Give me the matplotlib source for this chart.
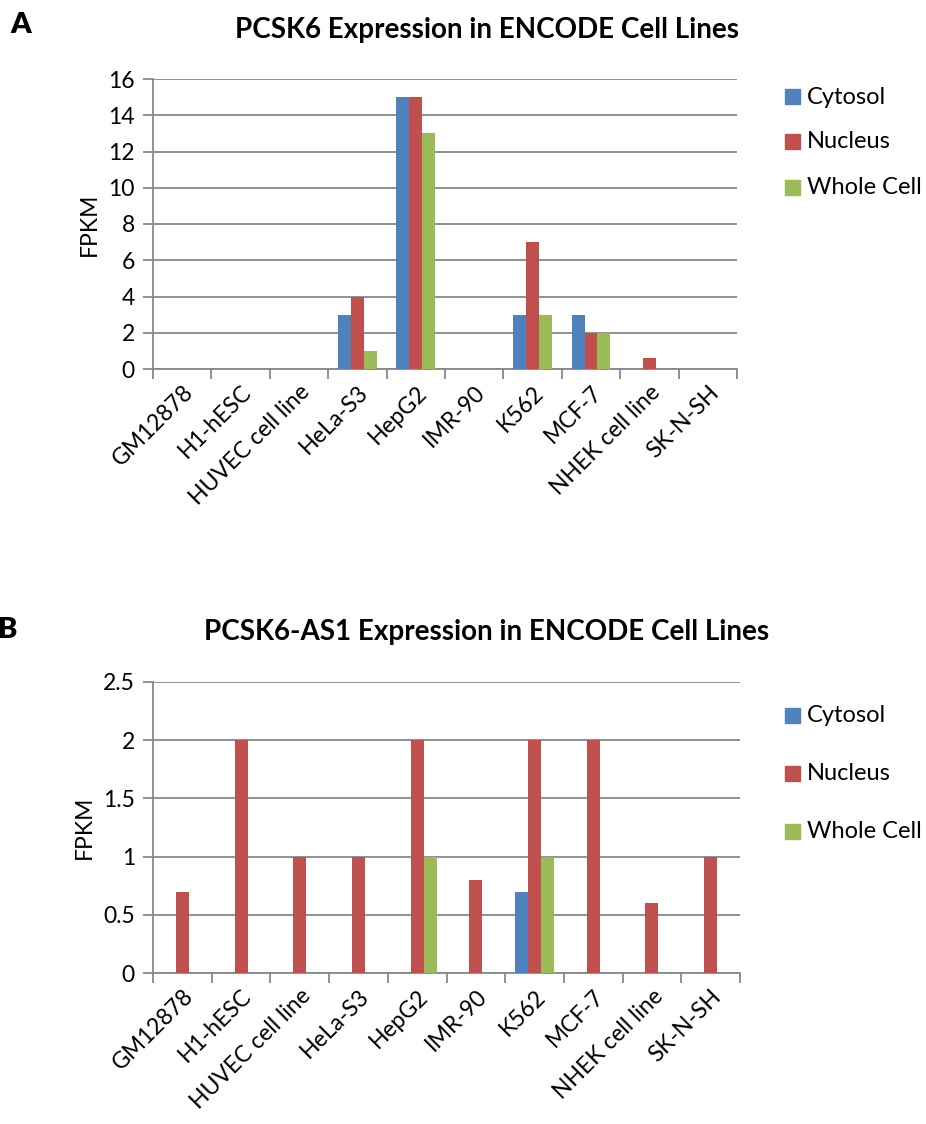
import matplotlib
matplotlib.use("Agg")
import matplotlib.pyplot as plt
import numpy as np
from matplotlib.patches import Rectangle

cells = ["GM12878", "H1-hESC", "HUVEC cell line", "HeLa-S3", "HepG2", "IMR-90",
         "K562", "MCF-7", "NHEK cell line", "SK-N-SH"]
series = ["Cytosol", "Nucleus", "Whole Cell"]
colors = ["#4F81BD", "#C0504D", "#9BBB59"]

a_cytosol = [0, 0, 0, 3, 15, 0, 3, 3, 0, 0]
a_nucleus = [0, 0, 0, 4, 15, 0, 7, 2, 0.6, 0]
a_whole = [0, 0, 0, 1, 13, 0, 3, 2, 0, 0]

b_cytosol = [0, 0, 0, 0, 0, 0, 0.7, 0, 0, 0]
b_nucleus = [0.7, 2, 1, 1, 2, 0.8, 2, 2, 0.6, 1]
b_whole = [0, 0, 0, 0, 1, 0, 1, 0, 0, 0]

a_ticks = [0, 2, 4, 6, 8, 10, 12, 14, 16]
b_ticks = [0, 0.5, 1, 1.5, 2, 2.5]
b_ticklabels = ["0", "0.5", "1", "1.5", "2", "2.5"]

plt.rcParams['font.family'] = ['Lato', 'DejaVu Sans']

W, H = 926, 1124
fig = plt.figure(figsize=(W / 100, H / 100), dpi=100)

def fx(px):
    return px / W

def fy(py):
    return 1 - py / H

def panel(rect, data, ticks, ticklabels, ymax, title, title_y, letter, letter_xy, legend_ys):
    ax = fig.add_axes(rect)
    n = len(cells)
    x = np.arange(n)
    bw = 1 / 4.5
    for i, (vals, c) in enumerate(zip(data, colors)):
        ax.bar(x + (i - 1) * bw, vals, width=bw, color=c, zorder=3, linewidth=0)
    ax.set_xlim(-0.5, n - 0.5)
    ax.set_ylim(0, ymax)
    ax.set_yticks(ticks)
    ax.set_yticklabels(ticklabels, fontsize=16.5)
    ax.yaxis.grid(True, color="#888888", linewidth=1.3, zorder=0)
    ax.set_axisbelow(True)
    for s in ["top", "right"]:
        ax.spines[s].set_visible(False)
    for s in ["left", "bottom"]:
        ax.spines[s].set_color("#888888")
        ax.spines[s].set_linewidth(1.3)
    ax.tick_params(axis="y", length=7, width=1.3, color="#888888", pad=6)
    ax.set_xticks(np.arange(n + 1) - 0.5, minor=True)
    ax.set_xticks(x)
    ax.set_xticklabels(cells, rotation=45, ha="right", rotation_mode="anchor", fontsize=16.5)
    ax.tick_params(axis="x", which="major", length=0, pad=9)
    ax.tick_params(axis="x", which="minor", length=7, width=1.3, color="#888888")
    ax.set_ylabel("FPKM", fontsize=16.5, labelpad=6)
    fig.text(fx(487), fy(title_y), title, ha="center", va="center", fontsize=20, fontweight="bold")
    fig.text(fx(letter_xy[0]), fy(letter_xy[1]), letter, ha="left", va="center", fontsize=21, fontweight="heavy")
    for ly, lab, c in zip(legend_ys, series, colors):
        fig.patches.append(Rectangle((fx(785), fy(ly + 7)), fx(15), 15 / H, color=c,
                                     transform=fig.transFigure, figure=fig))
        fig.text(fx(807), fy(ly), lab, ha="left", va="center", fontsize=17)
    return ax

panel([fx(153), fy(369), fx(737) - fx(153), fy(79) - fy(369)],
      [a_cytosol, a_nucleus, a_whole], a_ticks, [str(t) for t in a_ticks], 16,
      "PCSK6 Expression in ENCODE Cell Lines", 30, "A", (10, 25), [97, 142, 188])
panel([fx(153), fy(973), fx(740) - fx(153), fy(682) - fy(973)],
      [b_cytosol, b_nucleus, b_whole], b_ticks, b_ticklabels, 2.5,
      "PCSK6-AS1 Expression in ENCODE Cell Lines", 632, "B", (-2, 630), [716, 774, 832])

fig.savefig("out.png", dpi=100)
